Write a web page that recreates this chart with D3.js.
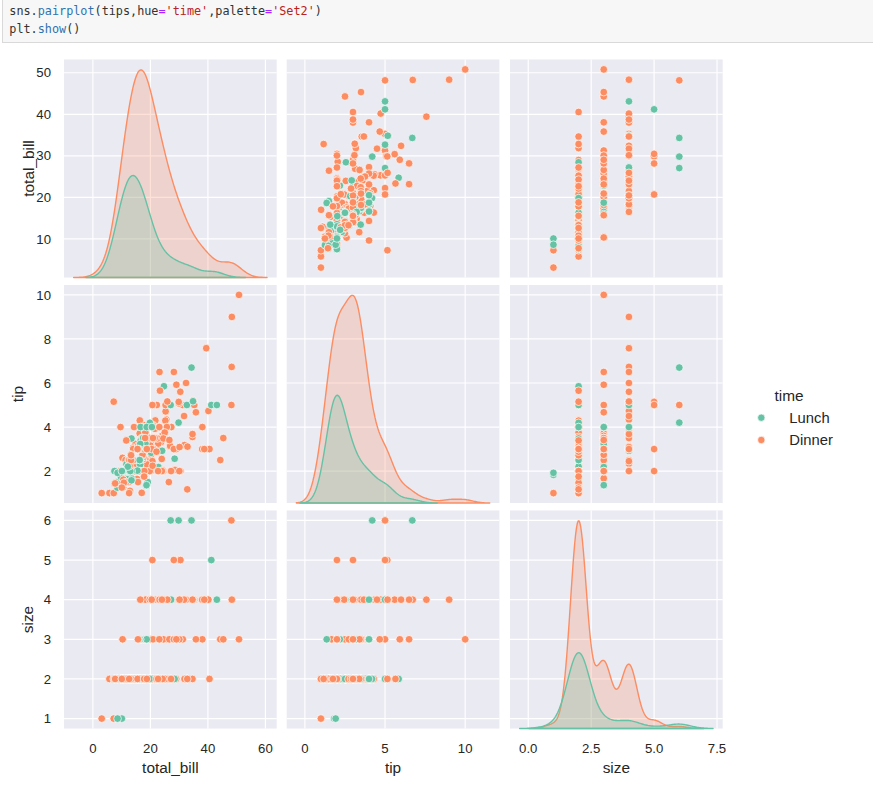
<!DOCTYPE html>
<html>
<head>
<meta charset="utf-8">
<script src="https://cdn.jsdelivr.net/npm/d3@7"></script>
<style>
  body { margin: 0; background: #ffffff; }
  svg { display: block; }
</style>
</head>
<body>
<svg id="chart" width="873" height="792"></svg>
<script>
// tips data, one entry per row (in the original row order)
const totalBill = [
  16.99,10.34,21.01,23.68,24.59,25.29,8.77,26.88,15.04,14.78,
  10.27,35.26,15.42,18.43,14.83,21.58,10.33,16.29,16.97,20.65,
  17.92,20.29,15.77,39.42,19.82,17.81,13.37,12.69,21.7,19.65,
  9.55,18.35,15.06,20.69,17.78,24.06,16.31,16.93,18.69,31.27,
  16.04,17.46,13.94,9.68,30.4,18.29,22.23,32.4,28.55,18.04,
  12.54,10.29,34.81,9.94,25.56,19.49,38.01,26.41,11.24,48.27,
  20.29,13.81,11.02,18.29,17.59,20.08,16.45,3.07,20.23,15.01,
  12.02,17.07,26.86,25.28,14.73,10.51,17.92,27.2,22.76,17.29,
  19.44,16.66,10.07,32.68,15.98,34.83,13.03,18.28,24.71,21.16,
  28.97,22.49,5.75,16.32,22.75,40.17,27.28,12.03,21.01,12.46,
  11.35,15.38,44.3,22.42,20.92,15.36,20.49,25.21,18.24,14.31,
  14.0,7.25,38.07,23.95,25.71,17.31,29.93,10.65,12.43,24.08,
  11.69,13.42,14.26,15.95,12.48,29.8,8.52,14.52,11.38,22.82,
  19.08,20.27,11.17,12.26,18.26,8.51,10.33,14.15,16.0,13.16,
  17.47,34.3,41.19,27.05,16.43,8.35,18.64,11.87,9.78,7.51,
  14.07,13.13,17.26,24.55,19.77,29.85,48.17,25.0,13.39,16.49,
  21.5,12.66,16.21,13.81,17.51,24.52,20.76,31.71,10.59,10.63,
  50.81,15.81,7.25,31.85,16.82,32.9,17.89,14.48,9.6,34.63,
  34.65,23.33,45.35,23.17,40.55,20.69,20.9,30.46,18.15,23.1,
  15.69,19.81,28.44,15.48,16.58,7.56,10.34,43.11,13.0,13.51,
  18.71,12.74,13.0,16.4,20.53,16.47,26.59,38.73,24.27,12.76,
  30.06,25.89,48.33,13.27,28.17,12.9,28.15,11.59,7.74,30.14,
  12.16,13.42,8.58,15.98,13.42,16.27,10.09,20.45,13.28,22.12,
  24.01,15.69,11.61,10.77,15.53,10.07,12.6,32.83,35.83,29.03,
  27.18,22.67,17.82,18.78
];

const tip = [
  1.01,1.66,3.5,3.31,3.61,4.71,2.0,3.12,1.96,3.23,
  1.71,5.0,1.57,3.0,3.02,3.92,1.67,3.71,3.5,3.35,
  4.08,2.75,2.23,7.58,3.18,2.34,2.0,2.0,4.3,3.0,
  1.45,2.5,3.0,2.45,3.27,3.6,2.0,3.07,2.31,5.0,
  2.24,2.54,3.06,1.32,5.6,3.0,5.0,6.0,2.05,3.0,
  2.5,2.6,5.2,1.56,4.34,3.51,3.0,1.5,1.76,6.73,
  3.21,2.0,1.98,3.76,2.64,3.15,2.47,1.0,2.01,2.09,
  1.97,3.0,3.14,5.0,2.2,1.25,3.08,4.0,3.0,2.71,
  3.0,3.4,1.83,5.0,2.03,5.17,2.0,4.0,5.85,3.0,
  3.0,3.5,1.0,4.3,3.25,4.73,4.0,1.5,3.0,1.5,
  2.5,3.0,2.5,3.48,4.08,1.64,4.06,4.29,3.76,4.0,
  3.0,1.0,4.0,2.55,4.0,3.5,5.07,1.5,1.8,2.92,
  2.31,1.68,2.5,2.0,2.52,4.2,1.48,2.0,2.0,2.18,
  1.5,2.83,1.5,2.0,3.25,1.25,2.0,2.0,2.0,2.75,
  3.5,6.7,5.0,5.0,2.3,1.5,1.36,1.63,1.73,2.0,
  2.5,2.0,2.74,2.0,2.0,5.14,5.0,3.75,2.61,2.0,
  3.5,2.5,2.0,2.0,3.0,3.48,2.24,4.5,1.61,2.0,
  10.0,3.16,5.15,3.18,4.0,3.11,2.0,2.0,4.0,3.55,
  3.68,5.65,3.5,6.5,3.0,5.0,3.5,2.0,3.5,4.0,
  1.5,4.19,2.56,2.02,4.0,1.44,2.0,5.0,2.0,2.0,
  4.0,2.01,2.0,2.5,4.0,3.23,3.41,3.0,2.03,2.23,
  2.0,5.16,9.0,2.5,6.5,1.1,3.0,1.5,1.44,3.09,
  2.2,3.48,1.92,3.0,1.58,2.5,2.0,3.0,2.72,2.88,
  2.0,3.0,3.39,1.47,3.0,1.25,1.0,1.17,4.67,5.92,
  2.0,2.0,1.75,3.0
];

const size = [
  2,3,3,2,4,4,2,4,2,2,
  2,4,2,4,2,2,3,3,3,3,
  2,2,2,4,2,4,2,2,2,2,
  2,4,2,4,2,3,3,3,3,3,
  3,2,2,2,4,2,2,4,3,2,
  2,2,4,2,4,2,4,2,2,4,
  2,2,2,4,3,3,2,1,2,2,
  2,3,2,2,2,2,2,4,2,2,
  2,2,1,2,2,4,2,2,2,2,
  2,2,2,2,2,4,2,2,2,2,
  2,2,3,2,2,2,2,2,2,2,
  2,1,3,2,3,2,4,2,2,4,
  2,2,2,2,2,6,2,2,2,3,
  2,2,2,2,2,2,2,2,2,2,
  2,6,5,6,2,2,3,2,2,2,
  2,2,3,4,4,5,6,4,2,4,
  4,2,3,2,2,3,2,4,2,2,
  3,2,2,2,2,2,2,2,2,2,
  4,2,3,4,2,5,3,5,3,3,
  2,2,2,2,2,2,2,4,2,2,
  3,2,2,2,4,3,3,4,2,2,
  3,4,4,2,3,2,5,2,2,4,
  2,2,1,3,2,2,2,4,2,2,
  4,3,2,2,2,2,2,2,3,3,
  2,2,2,2
];

// D = Dinner, L = Lunch (10 rows per chunk)
const timeCodes = [
  "DDDDDDDDDD","DDDDDDDDDD","DDDDDDDDDD","DDDDDDDDDD","DDDDDDDDDD",
  "DDDDDDDDDD","DDDDDDDDDD","DDDDDDDLLL","LLLLLLLLLL","DDDDDDDDDD",
  "DDDDDDDDDD","DDDDDDDLLL","LLLLLLLLLL","LLLLLLLLLL","LLLLLLLLLL",
  "DDDDDDDDDD","DDDDDDDDDD","DDDDDDDDDD","DDDDDDDDDD","DLLLLLLLLL",
  "LLLLLLDDDD","DDDDDDDDDD","LLLLLLLDDD","DDDDDDDDDD","DDDD"
];
const time = timeCodes.join("").split("").map(c => c === "L" ? "Lunch" : "Dinner");

const varNames = ["total_bill", "tip", "size"];
const hueOrder = ["Lunch", "Dinner"];
const hueColors = ["#66c2a5", "#fc8d62"];   // Set2

const xTickVals = [[0, 20, 40, 60], [0, 5, 10], [0, 2.5, 5, 7.5]];
const yTickVals = [[10, 20, 30, 40, 50], [2, 4, 6, 8, 10], [1, 2, 3, 4, 5, 6]];
const xTickFmt = [d3.format("d"), d3.format("d"), d3.format(".1f")];

const codeLine1 = [
  ["sns.", "#333333"], ["pairplot", "#2f72b0"], ["(tips,hue", "#333333"], ["=", "#aa22ff"],
  ["'time'", "#ba2121"], [",palette", "#333333"], ["=", "#aa22ff"], ["'Set2'", "#ba2121"], [")", "#333333"]
];
const codeLine2 = [["plt.", "#333333"], ["show", "#2f72b0"], ["()", "#333333"]];

// ---------- layout ----------
const colLeft = [64, 286.7, 510], colW = 212.7;
const rowTop = [59.5, 285, 510.5], rowH = 218;
const textColor = "#262626";
const font = "'Liberation Sans', Arial, sans-serif";

const svg = d3.select("#chart");
const columns = [totalBill, tip, size];
const rows = totalBill.map((d, i) => ({ total_bill: d, tip: tip[i], size: size[i], time: time[i] }));
const color = d3.scaleOrdinal().domain(hueOrder).range(hueColors);

// code cell at the top
svg.append("rect")
  .attr("x", 2.5).attr("y", -2).attr("width", 880).attr("height", 44.5)
  .attr("fill", "#f7f7f7").attr("stroke", "#d9d9d9").attr("stroke-width", 1);

[[codeLine1, 15], [codeLine2, 33.3]].forEach(([parts, y]) => {
  let t = svg.append("text")
    .attr("x", 9.3).attr("y", y)
    .style("font-family", "'DejaVu Sans Mono', 'Liberation Mono', monospace")
    .style("font-size", "11.8px")
    .attr("xml:space", "preserve");
  parts.forEach(p => t.append("tspan").attr("fill", p[1]).text(p[0]));
});

// gaussian kde (scott bandwidth, cut = 3, 200 grid points)
function kdeCurve(values, weight) {
  let n = values.length;
  let sd = d3.deviation(values);
  let bw = sd * Math.pow(n, -0.2);
  let lo = d3.min(values) - 3 * bw, hi = d3.max(values) + 3 * bw;
  let pts = [];
  for (let k = 0; k < 200; k++) {
    let x = lo + (hi - lo) * k / 199;
    let s = 0;
    for (let v of values) {
      let z = (x - v) / bw;
      s += Math.exp(-0.5 * z * z);
    }
    pts.push([x, weight * s / (n * bw * Math.sqrt(2 * Math.PI))]);
  }
  return pts;
}

// kde per variable and hue (common_norm: scaled by group share)
let kdes = columns.map(vals => hueOrder.map(h => {
  let sub = vals.filter((v, i) => time[i] === h);
  return kdeCurve(sub, sub.length / vals.length);
}));

function pad(ext) {
  let m = (ext[1] - ext[0]) * 0.05;
  return [ext[0] - m, ext[1] + m];
}

let xScales = columns.map((vals, c) => {
  let ext = d3.extent(kdes[c].flat().map(p => p[0]).concat(vals));
  return d3.scaleLinear().domain(pad(ext)).range([colLeft[c], colLeft[c] + colW]);
});
let yScales = columns.map((vals, r) =>
  d3.scaleLinear().domain(pad(d3.extent(vals))).range([rowTop[r] + rowH, rowTop[r]]));

// panels
for (let r = 0; r < 3; r++) {
  for (let c = 0; c < 3; c++) {
    let x = xScales[c], y = yScales[r];
    let g = svg.append("g");
    let clipId = "clip" + r + c;
    svg.append("clipPath").attr("id", clipId)
      .append("rect").attr("x", colLeft[c]).attr("y", rowTop[r] - 2)
      .attr("width", colW).attr("height", rowH + 4);

    g.append("rect")
      .attr("x", colLeft[c]).attr("y", rowTop[r])
      .attr("width", colW).attr("height", rowH)
      .attr("fill", "#eaeaf2");

    g.selectAll(".vgrid").data(xTickVals[c]).enter().append("line")
      .attr("x1", d => x(d)).attr("x2", d => x(d))
      .attr("y1", rowTop[r]).attr("y2", rowTop[r] + rowH)
      .attr("stroke", "#ffffff").attr("stroke-width", 1.2);
    g.selectAll(".hgrid").data(yTickVals[r]).enter().append("line")
      .attr("x1", colLeft[c]).attr("x2", colLeft[c] + colW)
      .attr("y1", d => y(d)).attr("y2", d => y(d))
      .attr("stroke", "#ffffff").attr("stroke-width", 1.2);

    let plot = g.append("g").attr("clip-path", "url(#" + clipId + ")");

    if (r === c) {
      // diagonal: kde on its own y scale
      let ymax = d3.max(kdes[c].flat().map(p => p[1]));
      let yk = d3.scaleLinear().domain([0, ymax * 1.05]).range([rowTop[r] + rowH, rowTop[r]]);
      let area = d3.area().x(p => x(p[0])).y0(yk(0)).y1(p => yk(p[1]));
      // last hue first so that Lunch ends on top
      [1, 0].forEach(h => {
        plot.append("path")
          .datum(kdes[c][h])
          .attr("d", d => area(d) + "Z")
          .attr("fill", hueColors[h]).attr("fill-opacity", 0.25)
          .attr("stroke", hueColors[h]).attr("stroke-width", 1.4)
          .attr("stroke-linejoin", "round");
      });
    } else {
      plot.selectAll("circle").data(rows).enter().append("circle")
        .attr("cx", d => x(d[varNames[c]]))
        .attr("cy", d => y(d[varNames[r]]))
        .attr("r", 3.85)
        .attr("fill", d => color(d.time))
        .attr("stroke", "#ffffff").attr("stroke-width", 0.7);
    }
  }
}

// y tick labels (left column) and x tick labels (bottom row)
for (let r = 0; r < 3; r++) {
  svg.append("g").selectAll("text").data(yTickVals[r]).enter().append("text")
    .attr("x", 51).attr("y", d => yScales[r](d) + 4.7)
    .attr("text-anchor", "end")
    .style("font-family", font).style("font-size", "13.2px")
    .attr("fill", textColor)
    .text(d => d);
}
for (let c = 0; c < 3; c++) {
  svg.append("g").selectAll("text").data(xTickVals[c]).enter().append("text")
    .attr("x", d => xScales[c](d)).attr("y", 752.5)
    .attr("text-anchor", "middle")
    .style("font-family", font).style("font-size", "13.2px")
    .attr("fill", textColor)
    .text(d => xTickFmt[c](d));

  svg.append("text")
    .attr("x", colLeft[c] + colW / 2).attr("y", 772.5)
    .attr("text-anchor", "middle")
    .style("font-family", font).style("font-size", "15.4px")
    .attr("fill", textColor)
    .text(varNames[c]);
}

// y axis labels
let yLabelX = [33.5, 22.5, 33.3];
for (let r = 0; r < 3; r++) {
  let cy = rowTop[r] + rowH / 2;
  svg.append("text")
    .attr("transform", "translate(" + yLabelX[r] + "," + cy + ") rotate(-90)")
    .attr("text-anchor", "middle")
    .style("font-family", font).style("font-size", "15.4px")
    .attr("fill", textColor)
    .text(varNames[r]);
}

// legend
let legend = svg.append("g");
legend.append("text")
  .attr("x", 789).attr("y", 400.7)
  .attr("text-anchor", "middle")
  .style("font-family", font).style("font-size", "15.4px")
  .attr("fill", textColor)
  .text("time");
legend.selectAll("circle").data(hueOrder).enter().append("circle")
  .attr("cx", 761.3).attr("cy", (d, i) => 417.7 + i * 22.3)
  .attr("r", 3.7)
  .attr("fill", d => color(d))
  .attr("stroke", "#ffffff").attr("stroke-width", 0.7);
legend.selectAll(".lab").data(hueOrder).enter().append("text")
  .attr("x", 789.3).attr("y", (d, i) => 423.2 + i * 21.5)
  .style("font-family", font).style("font-size", "14.8px")
  .attr("fill", textColor)
  .text(d => d);
</script>
</body>
</html>
